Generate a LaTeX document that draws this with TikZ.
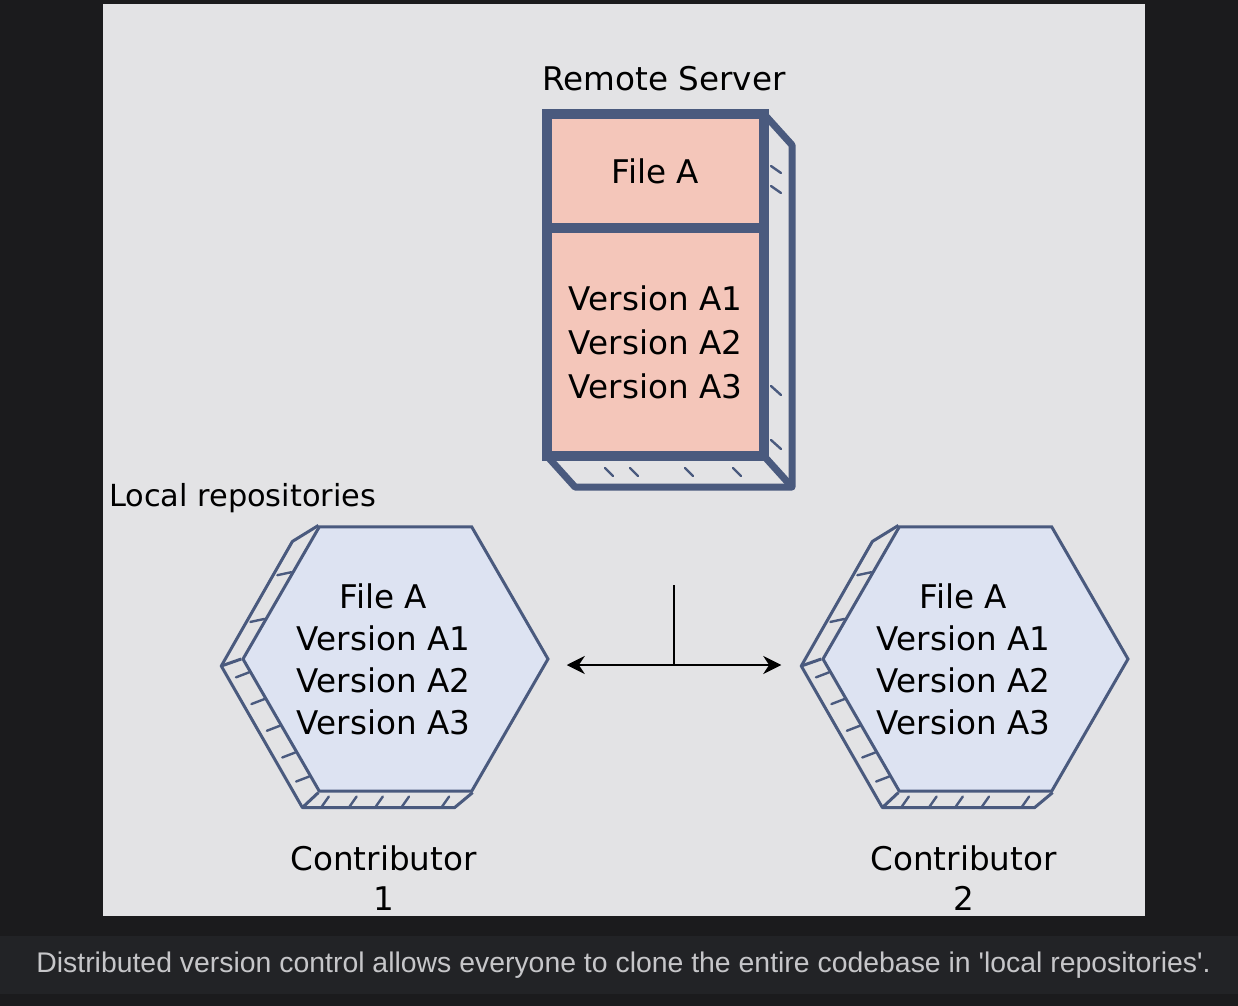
\documentclass[tikz,border=0pt]{standalone}
\usepackage{fontspec}
\setmainfont{DejaVu Sans}
\newfontfamily\captionfont[Ligatures=TeXOff]{Liberation Sans}
\usetikzlibrary{arrows.meta, calc, positioning, shapes.geometric}

\definecolor{pagebg}{HTML}{1B1B1D}
\definecolor{panelbg}{HTML}{E3E3E5}
\definecolor{capbg}{HTML}{222326}
\definecolor{captext}{HTML}{C6C6C9}
\definecolor{edge}{HTML}{4A5A7E}
\definecolor{salmon}{HTML}{F4C6BA}
\definecolor{lavender}{HTML}{DDE3F2}

\tikzset{
  label text/.style={font=\fontsize{16.3}{21}\selectfont, align=center},
  server cell/.style={draw=edge, line width=5pt, fill=salmon, minimum width=108.5pt, inner sep=0pt, outer sep=0pt},
  repo/.style={regular polygon, regular polygon sides=6, draw=edge, line width=1.5pt, fill=lavender, minimum size=152.5pt, inner sep=0pt},
  depth/.style={draw=edge, line width=1.5pt, line join=round},
  hatch/.style={draw=edge, line width=1.2pt, line cap=round},
  link/.style={black, line width=1.3pt},
}

\begin{document}
\begin{tikzpicture}[x=0.5pt, y=-0.5pt]
% backdrop and caption bar
\fill[pagebg] (0,0) rectangle (1238,1006);
\fill[panelbg] (103,4) rectangle (1145,916);
\fill[capbg] (0,936) rectangle (1238,994);
\node[text=captext, font=\captionfont\fontsize{14.2}{16}\selectfont] (caption) at (623.5,965) {Distributed version control allows everyone to clone the entire codebase in 'local repositories'.};

% remote server
\node[label text] (srvtitle) at (664,79) {Remote Server};
\node[server cell, minimum height=57pt, label text] (filecell) at (655.5,171) {File A};
\node[server cell, minimum height=114pt, label text, below=0pt of filecell, font=\fontsize{16.3}{22}\selectfont] (versioncell) {Version A1\\Version A2\\Version A3};
\draw[depth, line width=3.5pt] (filecell.north east) -- ++(28,31) -- ($(versioncell.south east)+(28,31)$) -- ($(versioncell.south west)+(28,31)$) -- (versioncell.south west);
\draw[depth, line width=3.5pt] (versioncell.south east) -- ++(28,31);
\foreach \dy in {52,72}
  \draw[hatch] ($(filecell.north east)+(7,\dy)$) -- ++(10,7);
\foreach \dy in {-70,-16}
  \draw[hatch] ($(versioncell.south east)+(7,\dy)$) -- ++(10,9);
\foreach \dx in {58,83,138,186}
  \draw[hatch] ($(versioncell.south west)+(\dx,12)$) -- ++(8,8);

% local repositories
\node[font=\fontsize{15.2}{18}\selectfont, anchor=west] (localtitle) at (102,498) {Local repositories};
\node[repo] (repoA) at (395.5,659) {};
\node[repo] (repoB) at (975.5,659) {};
\foreach \r in {repoA,repoB} {
  \draw[depth] (\r.corner 2) -- ($(\r.corner 2)+(-26,16)$) -- ($(\r.corner 3)+(-20,7)$) -- ($(\r.corner 4)+(-16,15)$) -- ($(\r.corner 5)+(-18,15)$) -- (\r.corner 5);
  \draw[depth] (\r.corner 3) -- ($(\r.corner 3)+(-20,7)$);
  \draw[depth] (\r.corner 4) -- ($(\r.corner 4)+(-16,15)$);
  \foreach \t in {0.1,0.3,0.5,0.7,0.88}
    \draw[hatch] ($(\r.corner 3)!\t!(\r.corner 4)$) -- ++(-13,5);
  \foreach \t in {0.1,0.28,0.45,0.62,0.88}
    \draw[hatch] ($(\r.corner 4)!\t!(\r.corner 5)+(-12,14)$) -- ++(7,-10);
  \foreach \t in {0.35,0.7}
    \draw[hatch] ($(\r.corner 2)!\t!(\r.corner 3)$) -- ++(-14,3);
}
\node[label text] (repoAtext) at ($(repoA.center)+(-12,0)$) {File A\\Version A1\\Version A2\\Version A3};
\node[label text] (repoBtext) at ($(repoB.center)+(-12,0)$) {File A\\Version A1\\Version A2\\Version A3};
\node[label text, font=\fontsize{16.3}{20}\selectfont] (contribA) at ($(repoA.center)+(-12,219)$) {Contributor\\1};
\node[label text, font=\fontsize{16.3}{20}\selectfont] (contribB) at ($(repoB.center)+(-12,219)$) {Contributor\\2};

% sync link between the clones
\draw[link, {Stealth[length=9pt, width=9pt]}-{Stealth[length=9pt, width=9pt]}] ([xshift=8.5pt, yshift=-3pt]repoA.corner 6) -- coordinate[pos=0.5] (tee) ([xshift=-20pt, yshift=-3pt]repoB.corner 3);
\draw[link] (tee) -- ++(0,-80);
\end{tikzpicture}
\end{document}
